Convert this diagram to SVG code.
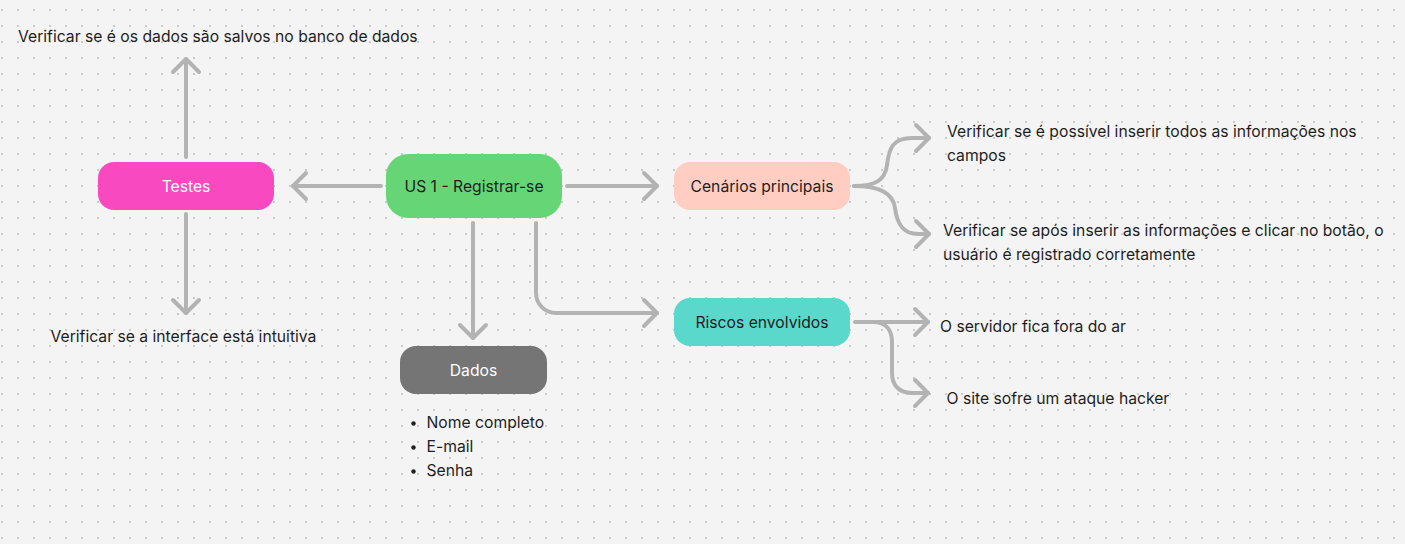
<svg xmlns="http://www.w3.org/2000/svg" width="1405" height="544" viewBox="0 0 1405 544">
<defs>
<pattern id="dots" width="16" height="16" patternUnits="userSpaceOnUse">
<rect x="1" y="9" width="2" height="2" fill="#cacaca"/>
</pattern>
<marker id="arr" markerUnits="userSpaceOnUse" markerWidth="32" markerHeight="32" refX="0" refY="0" orient="auto" overflow="visible">
<path d="M-13,-13 L0,0 L-13,13" fill="none" stroke="#b3b3b3" stroke-width="4" stroke-linecap="round" stroke-linejoin="round"/>
</marker>
<style>
.t{font-family:Inter,"Noto Sans","Liberation Sans",sans-serif;font-size:15.7px;fill:#1e1e1e}
.c{text-anchor:middle}
.w{fill:#ffffff}
.con{fill:none;stroke:#b3b3b3;stroke-width:4;stroke-linecap:round;stroke-linejoin:round;marker-end:url(#arr)}
</style>
</defs>
<rect width="1405" height="544" fill="#f4f4f4"/>
<rect width="1405" height="544" fill="url(#dots)"/>

<g id="connectors">
<path class="con" d="M381,186 H293"/>
<path class="con" d="M186,157 V59"/>
<path class="con" d="M186,214 V313"/>
<path class="con" d="M567,186 H657"/>
<path class="con" d="M473,223 V338"/>
<path class="con" d="M536,223 V293 A20,20 0 0 0 556,313 H657"/>
<path class="con" d="M854,186 C876,186 885,180 887,165 C889,148 893,138 912,138 H929"/>
<path class="con" d="M854,186 C876,186 893,192 895,208 C897,224 903,234 918,234 H929"/>
<path class="con" d="M855,322 H928"/>
<path class="con" d="M873,322 C886,322 892,330 892,342 V373 C892,385 899,393 912,393 H928"/>
</g>

<g id="testes">
<rect x="98" y="162" width="176" height="48" rx="16" fill="#f849c1"/>
<text class="t c w" x="186" y="192">Testes</text>
</g>
<g id="us1">
<rect x="386" y="154" width="176" height="64" rx="22" fill="#66d575"/>
<text class="t c" x="474" y="192">US 1 - Registrar-se</text>
</g>
<g id="cenarios">
<rect x="674" y="162" width="176" height="48" rx="16" fill="#ffcdc2"/>
<text class="t c" x="762" y="192">Cenários principais</text>
</g>
<g id="riscos">
<rect x="674" y="298" width="176" height="48" rx="16" fill="#5ad8cc"/>
<text class="t c" x="762" y="328">Riscos envolvidos</text>
</g>
<g id="dados">
<rect x="400" y="346" width="147" height="48" rx="16" fill="#757575"/>
<text class="t c w" x="473.5" y="376">Dados</text>
</g>

<g id="texto-testes-1"><text class="t" x="18" y="42">Verificar se é os dados são salvos no banco de dados</text></g>
<g id="texto-testes-2"><text class="t" x="50.5" y="341.5">Verificar se a interface está intuitiva</text></g>
<g id="texto-cenario-1"><text class="t" x="947" y="137">Verificar se é possível inserir todos as informações nos</text><text class="t" x="947" y="161">campos</text></g>
<g id="texto-cenario-2"><text class="t" x="943" y="236">Verificar se após inserir as informações e clicar no botão, o</text><text class="t" x="943" y="260">usuário é registrado corretamente</text></g>
<g id="texto-risco-1"><text class="t" x="940" y="332">O servidor fica fora do ar</text></g>
<g id="texto-risco-2"><text class="t" x="946.5" y="404">O site sofre um ataque hacker</text></g>
<g id="lista-dados">
<circle cx="413.5" cy="423.5" r="2.2" fill="#1e1e1e"/>
<circle cx="413.5" cy="447.5" r="2.2" fill="#1e1e1e"/>
<circle cx="413.5" cy="471.5" r="2.2" fill="#1e1e1e"/>
<text class="t" x="426.5" y="428">Nome completo</text>
<text class="t" x="426.5" y="452">E-mail</text>
<text class="t" x="426.5" y="476">Senha</text>
</g>
</svg>
